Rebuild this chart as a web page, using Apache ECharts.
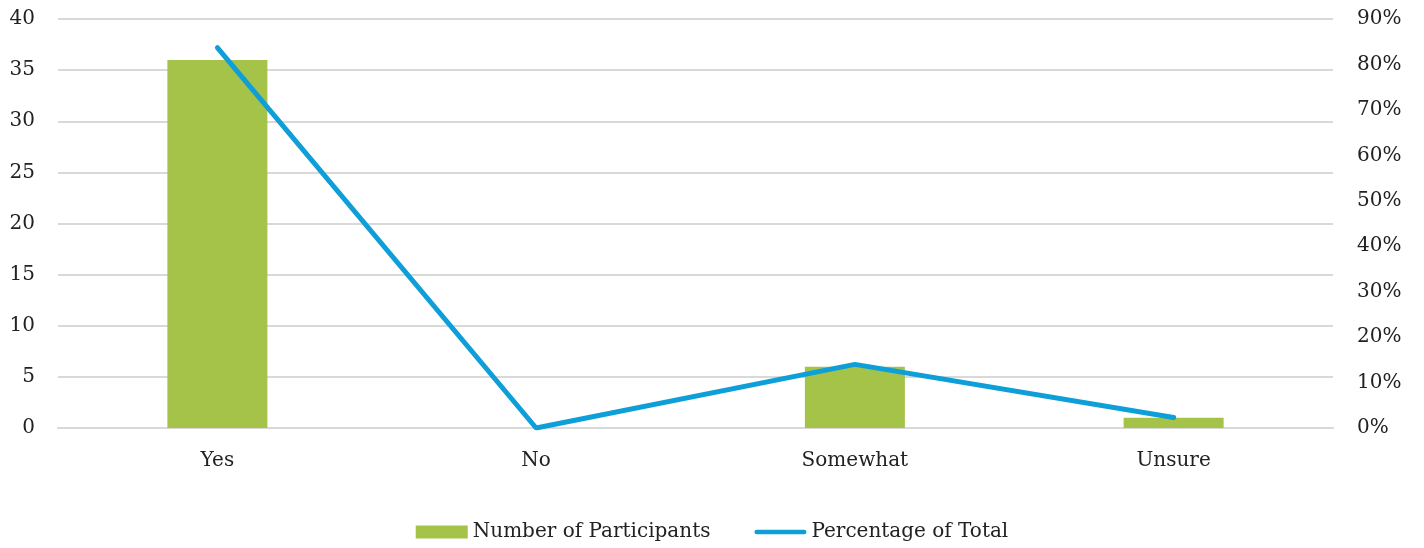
<!DOCTYPE html>
<html>
<head>
<meta charset="utf-8">
<script src="https://cdn.jsdelivr.net/npm/echarts@6/dist/echarts.min.js"></script>
<style>
  html, body { margin: 0; padding: 0; background: #fff; }
  #chart { width: 1424px; height: 548px; }
</style>
</head>
<body>
<div id="chart"></div>
<script>
// 数据
let categories = ['Yes', 'No', 'Somewhat', 'Unsure']
let participants = [36, 0, 6, 1]
let percentOfTotal = [83.7, 0, 14.0, 2.3]

let myChart = echarts.init(document.querySelector('#chart'))
let font = 'DejaVu Serif'
let option = {
  animation: false,
  grid: {
    left: 58,
    right: 91,
    top: 19,
    bottom: 120
  },
  legend: {
    bottom: 1,
    left: 'center',
    itemGap: 44,
    itemWidth: 52,
    itemHeight: 13,
    textStyle: { fontFamily: font, fontSize: 20, color: '#222' },
    data: [
      { name: 'Number of Participants', icon: 'rect' },
      {
        name: 'Percentage of Total',
        // 圆角细线图标
        icon: 'path://M2.5,0 L54.5,0 A2.5,2.5 0 0 1 54.5,5 L2.5,5 A2.5,2.5 0 0 1 2.5,0 Z'
      }
    ]
  },
  xAxis: {
    type: 'category',
    data: categories,
    axisLine: { lineStyle: { color: '#d9d9d9', width: 2 } },
    axisTick: { show: false },
    axisLabel: { fontFamily: font, fontSize: 20, color: '#222', margin: 23 }
  },
  yAxis: [{
      type: 'value',
      min: 0,
      max: 40,
      interval: 5,
      axisLine: { show: false },
      axisTick: { show: false },
      splitLine: { lineStyle: { color: '#d9d9d9', width: 2 } },
      axisLabel: { fontFamily: font, fontSize: 20, color: '#222', margin: 23 }
    },
    {
      type: 'value',
      min: 0,
      max: 90,
      interval: 10,
      axisLine: { show: false },
      axisTick: { show: false },
      splitLine: { show: false },
      axisLabel: { fontFamily: font, fontSize: 20, color: '#222', margin: 24, formatter: '{value}%' }
    }
  ],
  series: [{
      name: 'Number of Participants',
      type: 'bar',
      barWidth: 100,
      itemStyle: { color: '#a5c249' },
      data: participants
    },
    {
      name: 'Percentage of Total',
      type: 'line',
      yAxisIndex: 1,
      symbol: 'none',
      lineStyle: { color: '#0e9fd8', width: 5, cap: 'round' },
      itemStyle: { color: '#0e9fd8' },
      data: percentOfTotal
    }
  ]
}
myChart.setOption(option)
</script>
</body>
</html>
